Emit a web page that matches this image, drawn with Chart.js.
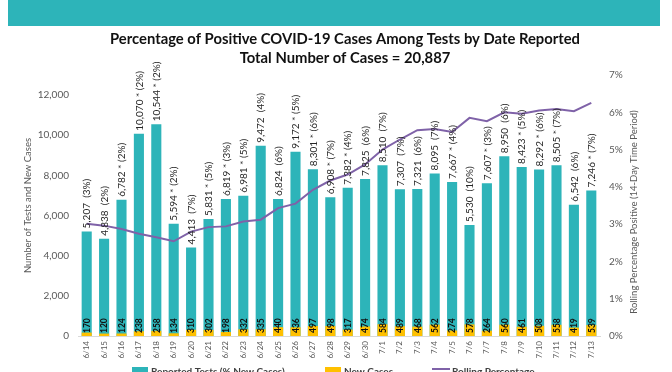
<!DOCTYPE html>
<html><head><meta charset="utf-8">
<script src="https://cdn.jsdelivr.net/npm/chart.js@4.4.0/dist/chart.umd.min.js"></script>
<style>html,body{margin:0;padding:0;background:#fff;overflow:hidden}</style>
</head><body>
<canvas id="c" width="672" height="372"></canvas>
<script>
const dates = ['6/14','6/15','6/16','6/17','6/18','6/19','6/20','6/21','6/22','6/23','6/24','6/25','6/26','6/27','6/28','6/29','6/30','7/1','7/2','7/3','7/4','7/5','7/6','7/7','7/8','7/9','7/10','7/11','7/12','7/13'];
const reportedTests = [5207,4838,6782,10070,10544,5594,4413,5831,6819,6981,9472,6824,9172,8301,6908,7382,7825,8510,7307,7321,8095,7667,5530,7607,8950,8423,8292,8505,6542,7246];
const pctNewCases = [3,2,2,2,2,2,7,5,3,5,4,6,5,6,7,4,6,7,7,6,7,4,10,3,6,5,6,7,6,7];
const starred = [0,0,1,1,1,1,0,1,1,1,0,0,1,1,1,1,0,0,0,0,0,1,0,1,0,1,1,1,0,1];
const newCases = [170,120,124,238,258,134,310,302,198,332,335,440,436,497,498,317,474,584,489,468,562,274,578,264,560,461,508,558,419,539];
const rollingPct = [3.01,2.96,2.87,2.74,2.65,2.54,2.80,2.92,2.94,3.07,3.12,3.43,3.55,3.92,4.17,4.33,4.60,5.00,5.27,5.52,5.55,5.47,5.85,5.76,6.00,5.96,6.05,6.09,6.03,6.25];
const leftTicks = [0,2000,4000,6000,8000,10000,12000];
const rightTicks = [0,1,2,3,4,5,6,7];
const titleLines = ['Percentage of Positive COVID-19 Cases Among Tests by Date Reported','Total Number of Cases = 20,887'];
const rightTitle = 'Rolling Percentage Positive (14-Day Time Period)';

const TEAL = '#2DB4B9', GOLD = '#FFC000', PURPLE = '#7F62A8', GREY = '#595959';
const FONT = 'Lato, "Open Sans", sans-serif';

const deco = {
  id: 'deco',
  beforeDraw(chart) {
    const ctx = chart.ctx;
    ctx.save();
    ctx.fillStyle = '#fff';
    ctx.fillRect(0, 0, chart.width, chart.height);
    ctx.fillStyle = TEAL;
    ctx.fillRect(8, 0, 652, 26);
    ctx.fillStyle = '#111';
    ctx.font = 'bold 14.8px ' + FONT;
    ctx.textAlign = 'center';
    ctx.textBaseline = 'middle';
    ctx.fillText(titleLines[0], 345, 39);
    ctx.fillText(titleLines[1], 345, 58);
    ctx.restore();
  },
  afterDatasetsDraw(chart) {
    const ctx = chart.ctx;
    const zero = chart.scales.y.getPixelForValue(0);
    const bars = chart.getDatasetMeta(0).data;
    ctx.save();
    bars.forEach((b, i) => {
      const txt = reportedTests[i].toLocaleString('en-US') + (starred[i] ? ' * ' : '  ') + '(' + pctNewCases[i] + '%)';
      ctx.save();
      ctx.translate(b.x, b.y - 3);
      ctx.rotate(-Math.PI / 2);
      ctx.font = '10px ' + FONT;
      ctx.fillStyle = '#262626';
      ctx.textAlign = 'left';
      ctx.textBaseline = 'middle';
      ctx.fillText(txt, 0, 0.5);
      ctx.restore();
      ctx.save();
      ctx.translate(b.x, zero - 3);
      ctx.rotate(-Math.PI / 2);
      ctx.font = 'bold 8.5px ' + FONT;
      ctx.fillStyle = '#111';
      ctx.textAlign = 'left';
      ctx.textBaseline = 'middle';
      ctx.fillText(String(newCases[i]), 0, 0.5);
      ctx.restore();
    });
    ctx.restore();
  },
  afterDraw(chart) {
    const ctx = chart.ctx;
    ctx.save();
    ctx.translate(633.5, 212);
    ctx.rotate(-Math.PI / 2);
    ctx.font = '9.5px ' + FONT;
    ctx.fillStyle = GREY;
    ctx.textAlign = 'center';
    ctx.textBaseline = 'middle';
    ctx.fillText(rightTitle, 0, 0);
    ctx.restore();
    const ds = chart.data.datasets;
    const xs = [132, 325, 432];
    ctx.save();
    ctx.font = 'bold 10px ' + FONT;
    ctx.textBaseline = 'middle';
    ctx.textAlign = 'left';
    ds.forEach((d, i) => {
      const x = xs[i];
      if (d.type === 'line') {
        ctx.strokeStyle = d.borderColor;
        ctx.lineWidth = 2;
        ctx.beginPath(); ctx.moveTo(x, 369); ctx.lineTo(x + 18, 369); ctx.stroke();
        ctx.fillStyle = '#404040';
        ctx.fillText(d.label, x + 20, 372);
      } else {
        ctx.fillStyle = d.backgroundColor;
        ctx.fillRect(x, 367, 16, 10);
        ctx.fillStyle = '#404040';
        ctx.fillText(d.label, x + 19, 372);
      }
    });
    ctx.restore();
  }
};

new Chart(document.getElementById('c'), {
  type: 'bar',
  data: {
    labels: dates,
    datasets: [
      { type: 'bar', label: 'Reported Tests (% New Cases)', data: reportedTests, backgroundColor: TEAL, yAxisID: 'y', grouped: false, barPercentage: 0.58, categoryPercentage: 1, order: 2 },
      { type: 'bar', label: 'New Cases', data: newCases, backgroundColor: GOLD, yAxisID: 'y', grouped: false, barPercentage: 0.58, categoryPercentage: 1, order: 1 },
      { type: 'line', label: 'Rolling Percentage', data: rollingPct, borderColor: PURPLE, backgroundColor: PURPLE, borderWidth: 2, pointRadius: 0, tension: 0, yAxisID: 'y2', order: 0 }
    ]
  },
  options: {
    responsive: false,
    animation: false,
    layout: { padding: { top: 75, left: 18, right: 49, bottom: 8 } },
    plugins: { legend: { display: false }, tooltip: { enabled: false }, title: { display: false } },
    scales: {
      x: {
        grid: { display: false, drawTicks: false },
        border: { display: true, color: '#D9D9D9', width: 1 },
        afterFit: s => { s.height = 28; },
        ticks: { autoSkip: false, minRotation: 90, maxRotation: 90, font: { family: FONT, size: 8 }, color: GREY, padding: 5 }
      },
      y: {
        position: 'left', min: 0, max: 13000,
        grid: { display: false, drawTicks: false }, border: { display: false },
        afterBuildTicks: s => { s.ticks = leftTicks.map(v => ({ value: v })); },
        afterFit: s => { s.width = 60; },
        ticks: { font: { family: FONT, size: 10 }, color: GREY, padding: 9,
                 callback: v => v.toLocaleString('en-US') },
        title: { display: true, text: 'Number of Tests and New Cases', font: { family: FONT, size: 9.5 }, color: GREY, padding: { top: 4, bottom: 4 } }
      },
      y2: {
        position: 'right', min: 0, max: 7,
        grid: { display: false, drawTicks: false }, border: { display: false },
        afterBuildTicks: s => { s.ticks = rightTicks.map(v => ({ value: v })); },
        afterFit: s => { s.width = 23; },
        ticks: { font: { family: FONT, size: 10 }, color: GREY, padding: 9, callback: v => v + '%' }
      }
    }
  },
  plugins: [deco]
});
</script>
</body></html>
